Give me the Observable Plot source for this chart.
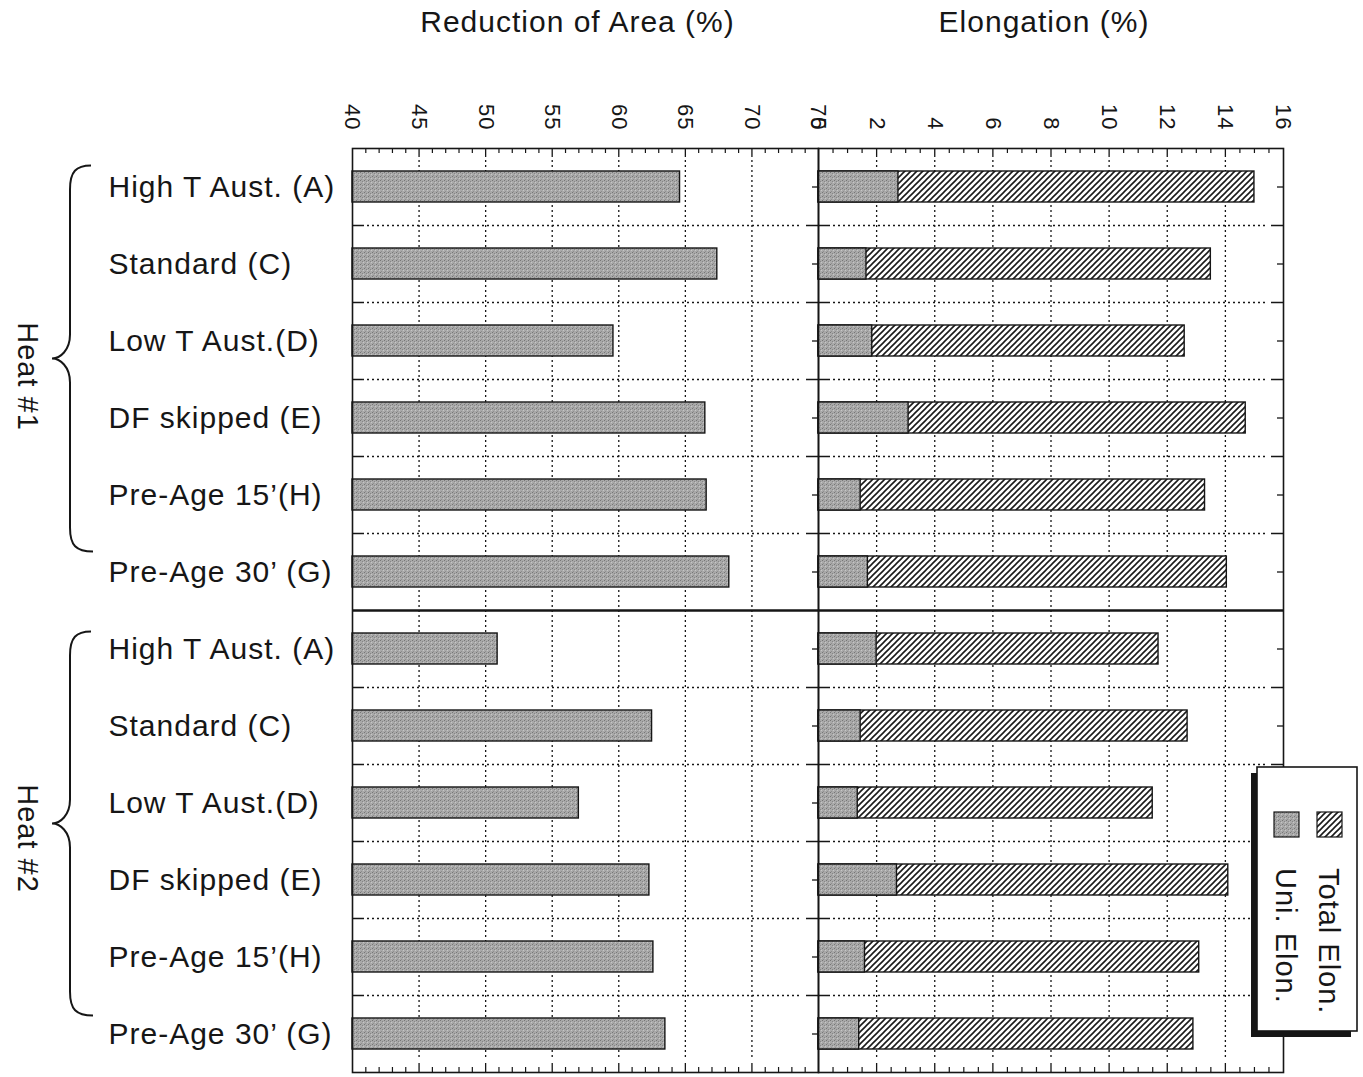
<!DOCTYPE html>
<html>
<head>
<meta charset="utf-8">
<script src="https://cdn.jsdelivr.net/npm/d3@7"></script>
<script src="https://cdn.jsdelivr.net/npm/@observablehq/plot@0.6"></script>
<style>
  html, body { margin: 0; padding: 0; background: #fff; }
  #wrap { position: relative; width: 1363px; height: 1077px; overflow: hidden; background: #fff; }
  #left, #right { position: absolute; top: 0; }
  #left { left: 0; }
  #right { left: 818px; }
</style>
</head>
<body>
<svg width="0" height="0" style="position:absolute">
  <defs>
    <pattern id="hatch" patternUnits="userSpaceOnUse" width="6" height="6">
      <rect width="6" height="6" fill="#ffffff"/>
      <path d="M0,6 L6,0 M-1,1 L1,-1 M5,7 L7,5" stroke="#1a1a1a" stroke-width="1.6"/>
    </pattern>
    <pattern id="stipple" patternUnits="userSpaceOnUse" width="4" height="4">
      <rect width="4" height="4" fill="#a9a9a9"/>
      <rect x="0" y="0" width="1" height="1" fill="#767676"/>
      <rect x="2" y="1" width="1" height="1" fill="#868686"/>
      <rect x="1" y="3" width="1" height="1" fill="#8f8f8f"/>
      <rect x="3" y="2" width="1" height="1" fill="#c6c6c6"/>
    </pattern>
  </defs>
</svg>
<div id="wrap"><div id="left"></div><div id="right"></div></div>
<script>
// ---------------- data ----------------
const treatments = ["High T Aust. (A)", "Standard (C)", "Low T Aust.(D)", "DF skipped (E)", "Pre-Age 15’(H)", "Pre-Age 30’ (G)"];
const heats = ["Heat #1", "Heat #2"];
const reductionHeat1 = [64.6, 67.4, 59.6, 66.5, 66.6, 68.3];
const reductionHeat2 = [50.9, 62.5, 57.0, 62.3, 62.6, 63.5];
const uniElonHeat1 = [2.75, 1.65, 1.85, 3.1, 1.45, 1.7];
const uniElonHeat2 = [2.0, 1.45, 1.35, 2.7, 1.6, 1.4];
const totalElonHeat1 = [15.0, 13.5, 12.6, 14.7, 13.3, 14.05];
const totalElonHeat2 = [11.7, 12.7, 11.5, 14.1, 13.1, 12.9];
const raTicks = [40, 45, 50, 55, 60, 65, 70, 75];
const elTicks = [0, 2, 4, 6, 8, 10, 12, 14, 16];
const titles = ["Reduction of Area (%)", "Elongation (%)"];
const legendLabels = ["Total Elon.", "Uni. Elon."];

// ---------------- table built from arrays ----------------
const raByHeat = [reductionHeat1, reductionHeat2];
const uniByHeat = [uniElonHeat1, uniElonHeat2];
const totByHeat = [totalElonHeat1, totalElonHeat2];
const rows = heats.flatMap((h, hi) => treatments.map((t, ti) => ({
  id: `${hi}-${ti}`, heat: h, name: t,
  ra: raByHeat[hi][ti], uni: uniByHeat[hi][ti], total: totByHeat[hi][ti]
})));
const ids = rows.map(d => d.id);
const sepId = ids[treatments.length];
const boundaryIds = ids.slice(1).filter(d => d !== sepId);
const heatRows = heats.map((h, hi) => ({heat: h, id: ids[hi * treatments.length + 3]}));

// ---------------- layout ----------------
const H = 1077, TOP = 148, BOT = 1072;
const FRAME_H = BOT - TOP;
const step = FRAME_H / ids.length;
const font = '"Liberation Sans", Arial, Helvetica, sans-serif';
const ink = "#161616";

function edgeDash(W, e, d = 2, g = 3) {
  const a = [e, g]; let pos = e + g;
  while (pos + d + g <= W - e) { a.push(d, g); pos += d + g; }
  a[a.length - 1] += (W - e - pos);
  a.push(e, 2000);
  return a.join(",");
}

function commonMarks(W, majors, minors) {
  return [
    Plot.ruleX(majors, {x: d => d, stroke: ink, strokeWidth: 1.3, strokeDasharray: edgeDash(FRAME_H, 9)}),
    Plot.ruleY(boundaryIds, {y: d => d, dy: -step / 2, stroke: ink, strokeWidth: 1.3, strokeDasharray: edgeDash(W, 12)}),
    Plot.tickX(minors, {x: d => d, insetBottom: FRAME_H - 5, stroke: ink, strokeWidth: 1.2}),
    Plot.tickX(minors, {x: d => d, insetTop: FRAME_H - 5, stroke: ink, strokeWidth: 1.2}),
    Plot.tickY(ids, {y: d => d, insetRight: W - 6, stroke: ink, strokeWidth: 1.3}),
    Plot.tickY(ids, {y: d => d, insetLeft: W - 6, stroke: ink, strokeWidth: 1.3})
  ];
}

const yScale = {domain: ids, range: [TOP, BOT], paddingInner: 0.6, paddingOuter: 0.3, axis: null};
const svgStyle = {fontFamily: font, color: ink, background: "transparent", overflow: "visible", letterSpacing: "1px"};

// ---------------- left panel ----------------
const left = Plot.plot({
  width: 818, height: H,
  marginLeft: 352, marginRight: 0, marginTop: TOP, marginBottom: H - BOT,
  style: svgStyle,
  x: {domain: [40, 75], axis: null},
  y: yScale,
  marks: [
    ...commonMarks(466, raTicks.slice(1, -1), d3.range(40, 75, 1).filter(v => v % 5 !== 0)),
    Plot.barX(rows, {y: "id", x1: 40, x2: "ra", fill: "url(#stipple)", stroke: ink, strokeWidth: 1.4}),
    Plot.ruleY([sepId], {y: d => d, dy: -step / 2, stroke: ink, strokeWidth: 2.6}),
    Plot.frame({stroke: ink, strokeWidth: 1.6}),
    Plot.text(raTicks, {x: d => d, text: d => String(d), frameAnchor: "top", lineAnchor: "middle", dy: -18, rotate: 90, textAnchor: "end", fontSize: 22, fill: ink}),
    Plot.text(rows, {y: "id", text: "name", frameAnchor: "left", lineAnchor: "middle", dx: 108 - 352, textAnchor: "start", fontSize: 30, fill: ink}),
    Plot.text([titles[0]], {frameAnchor: "top", lineAnchor: "middle", dy: -126, dx: -8, fontSize: 30, fill: ink}),
    Plot.text(heatRows, {y: "id", text: "heat", frameAnchor: "left", textAnchor: "middle", lineAnchor: "middle", dx: 27 - 352, dy: -step / 2 - 3, rotate: 90, fontSize: 29, fill: ink})
  ]
});
document.getElementById("left").appendChild(left);

// braces placed from the y scale
{
  const ys = left.scale("y");
  const bw = ys.bandwidth;
  const pos = id => (ys.apply ? ys.apply(id) : TOP + ids.indexOf(id) * step + step * 0.3) + bw / 2;
  const n = treatments.length;
  const spans = [
    [pos(ids[0]) - 21, pos(ids[n - 1]) - 20],
    [pos(ids[n]) - 17, pos(ids[2 * n - 1]) - 18]
  ];
  const svg = d3.select(left);
  for (const [a, b] of spans) {
    const m = (a + b) / 2;
    const xv = 70, xt = 52, xe = 91;
    const d = `M${xe},${a} C${xv + 6},${a} ${xv},${a + 6} ${xv},${a + 24} L${xv},${m - 24} C${xv},${m - 8} ${xt + 8},${m} ${xt},${m} C${xt + 8},${m} ${xv},${m + 8} ${xv},${m + 24} L${xv},${b - 24} C${xv},${b - 6} ${xv + 6},${b} ${xe + 2},${b}`;
    svg.append("path").attr("d", d).attr("fill", "none").attr("stroke", ink).attr("stroke-width", 2);
  }
}

// ---------------- right panel ----------------
const right = Plot.plot({
  width: 545, height: H,
  marginLeft: 0, marginRight: 545 - 465, marginTop: TOP, marginBottom: H - BOT,
  style: svgStyle,
  x: {domain: [0, 16], axis: null},
  y: yScale,
  marks: [
    ...commonMarks(465, elTicks.slice(1, -1), d3.range(0.5, 16, 0.5).filter(v => v % 2 !== 0)),
    Plot.barX(rows, {y: "id", x1: 0, x2: "total", fill: "url(#hatch)", stroke: ink, strokeWidth: 1.4}),
    Plot.barX(rows, {y: "id", x1: 0, x2: "uni", fill: "url(#stipple)", stroke: ink, strokeWidth: 1.4}),
    Plot.ruleY([sepId], {y: d => d, dy: -step / 2, stroke: ink, strokeWidth: 2.6}),
    Plot.frame({stroke: ink, strokeWidth: 1.6}),
    Plot.text(elTicks, {x: d => d, text: d => String(d), frameAnchor: "top", lineAnchor: "middle", dy: -18, rotate: 90, textAnchor: "end", fontSize: 22, fill: ink}),
    Plot.text([titles[1]], {frameAnchor: "top", lineAnchor: "middle", dy: -126, dx: -7, fontSize: 30, fill: ink})
  ]
});
document.getElementById("right").appendChild(right);

// legend (rotated, as in the original)
{
  const svg = d3.select(right);
  const g = svg.append("g").attr("font-family", font);
  const bx = 439, by = 767, bw = 100, bh = 264;
  g.append("rect").attr("x", bx - 6).attr("y", by + 6).attr("width", bw).attr("height", bh).attr("fill", ink);
  g.append("rect").attr("x", bx).attr("y", by).attr("width", bw).attr("height", bh).attr("fill", "#fff").attr("stroke", ink).attr("stroke-width", 1.6);
  const fills = ["url(#hatch)", "url(#stipple)"];
  const cols = [511, 468];
  legendLabels.forEach((lab, i) => {
    g.append("rect").attr("x", cols[i] - 12).attr("y", 812).attr("width", 25).attr("height", 25)
      .attr("fill", fills[i]).attr("stroke", ink).attr("stroke-width", 1.2);
    g.append("text").attr("transform", `translate(${cols[i]},868) rotate(90)`)
      .attr("text-anchor", "start").attr("dy", "0.35em").attr("font-size", 29).attr("fill", ink).text(lab);
  });
}
</script>
</body>
</html>
